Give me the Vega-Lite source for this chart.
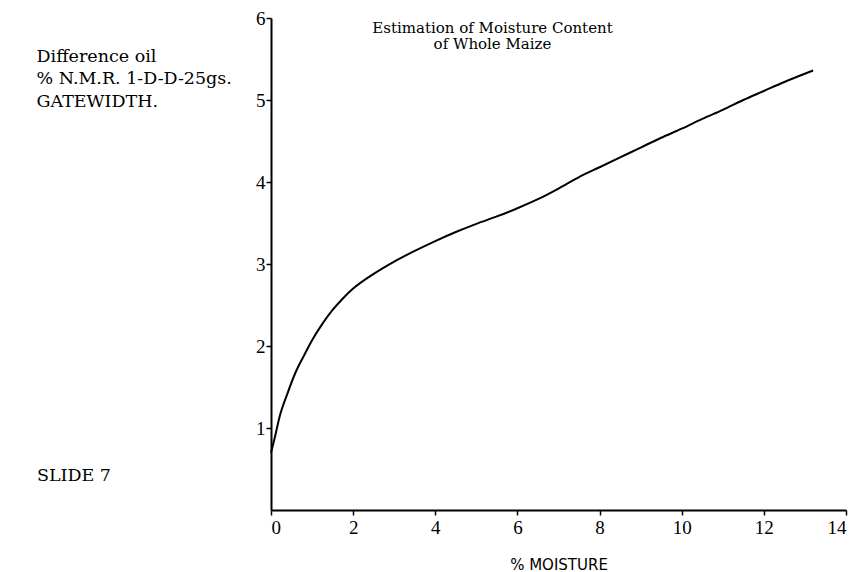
{
  "$schema": "https://vega.github.io/schema/vega-lite/v6.json",
  "width": 575,
  "height": 492,
  "autosize": "none",
  "padding": {"left": 271, "top": 18, "right": 10, "bottom": 62},
  "background": "white",
  "config": {
    "view": {"stroke": null},
    "font": "Liberation Serif",
    "axis": {
      "grid": false,
      "domainColor": "black",
      "domainWidth": 2,
      "tickColor": "black",
      "tickWidth": 1.5,
      "tickSize": 5,
      "labelColor": "black",
      "titleColor": "black",
      "titleFontWeight": "normal"
    }
  },
  "title": {
    "text": ["Estimation of Moisture Content", "of Whole Maize"],
    "font": "DejaVu Serif",
    "fontSize": 15,
    "fontWeight": "normal",
    "color": "black",
    "lineHeight": 16.5,
    "anchor": "middle",
    "frame": "group",
    "offset": -43,
    "dx": -66
  },
  "data": {
    "values": [
      {"moisture": 0.0, "diff": 0.70},
      {"moisture": 0.1, "diff": 0.90},
      {"moisture": 0.2, "diff": 1.12},
      {"moisture": 0.4, "diff": 1.42},
      {"moisture": 0.6, "diff": 1.68},
      {"moisture": 0.8, "diff": 1.88},
      {"moisture": 1.0, "diff": 2.07},
      {"moisture": 1.25, "diff": 2.27},
      {"moisture": 1.5, "diff": 2.44},
      {"moisture": 1.75, "diff": 2.58},
      {"moisture": 2.0, "diff": 2.70},
      {"moisture": 2.5, "diff": 2.88},
      {"moisture": 3.0, "diff": 3.03},
      {"moisture": 3.5, "diff": 3.16},
      {"moisture": 4.0, "diff": 3.28},
      {"moisture": 4.5, "diff": 3.39},
      {"moisture": 5.0, "diff": 3.49},
      {"moisture": 5.5, "diff": 3.58},
      {"moisture": 6.0, "diff": 3.68},
      {"moisture": 6.5, "diff": 3.79},
      {"moisture": 7.0, "diff": 3.92},
      {"moisture": 7.5, "diff": 4.06},
      {"moisture": 8.0, "diff": 4.18},
      {"moisture": 8.5, "diff": 4.30},
      {"moisture": 9.0, "diff": 4.42},
      {"moisture": 9.5, "diff": 4.54},
      {"moisture": 10.0, "diff": 4.65},
      {"moisture": 10.5, "diff": 4.77},
      {"moisture": 11.0, "diff": 4.88},
      {"moisture": 11.5, "diff": 5.00},
      {"moisture": 12.0, "diff": 5.11},
      {"moisture": 12.5, "diff": 5.22},
      {"moisture": 13.2, "diff": 5.36}
    ]
  },
  "layer": [
    {
      "mark": {"type": "line", "color": "black", "strokeWidth": 2, "interpolate": "monotone"},
      "encoding": {
        "x": {
          "field": "moisture",
          "type": "quantitative",
          "scale": {"domain": [0, 14], "nice": false, "zero": false},
          "axis": {
            "values": [0, 2, 4, 6, 8, 10, 12, 14],
            "format": "d",
            "labelFont": "Liberation Serif",
            "labelFontSize": 19,
            "labelPadding": 3,
            "title": "% MOISTURE",
            "titleFont": "DejaVu Sans",
            "titleFontSize": 15,
            "titleBaseline": "alphabetic",
            "titleY": 59
          }
        },
        "y": {
          "field": "diff",
          "type": "quantitative",
          "scale": {"domain": [0, 6], "nice": false, "zero": false},
          "axis": {
            "values": [1, 2, 3, 4, 5, 6],
            "format": "d",
            "labelFont": "Liberation Serif",
            "labelFontSize": 19,
            "labelPadding": 1,
            "title": ["Difference oil", "% N.M.R. 1-D-D-25gs.", "GATEWIDTH."],
            "titleFont": "DejaVu Serif",
            "titleFontSize": 17.5,
            "titleAngle": 0,
            "titleAlign": "left",
            "titleBaseline": "top",
            "titleLineHeight": 22.5,
            "titleX": -235,
            "titleY": 29
          }
        }
      }
    },
    {
      "data": {"values": [{"label": "SLIDE 7"}]},
      "mark": {"type": "text", "font": "DejaVu Serif", "fontSize": 17.5, "align": "left", "baseline": "alphabetic", "color": "black"},
      "encoding": {
        "x": {"datum": -5.7, "type": "quantitative"},
        "y": {"datum": 0.35, "type": "quantitative"},
        "text": {"field": "label"}
      }
    }
  ]
}
